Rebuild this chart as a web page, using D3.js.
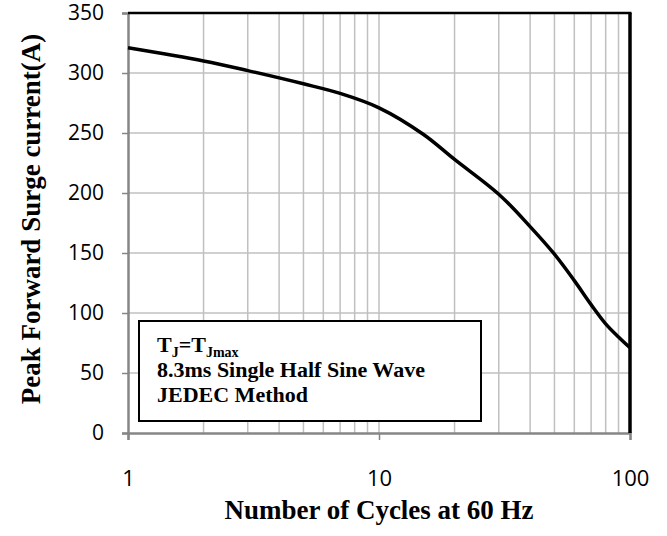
<!DOCTYPE html>
<html><head><meta charset="utf-8">
<script src="https://cdn.jsdelivr.net/npm/d3@7"></script>
<style>body{margin:0;background:#fff}</style>
</head><body>
<svg id="c" width="667" height="536"></svg>
<script>
const cycles = [1, 2, 3, 5, 7, 10, 15, 20, 30, 40, 50, 60, 70, 80, 90, 100];
const surge  = [321, 310, 302, 291, 283, 271, 249, 228, 199, 172, 149, 127, 107, 91, 80, 71];
const yTicks = [0, 50, 100, 150, 200, 250, 300, 350];
const xTicks = [1, 10, 100];
const xTitle = "Number of Cycles at 60 Hz";
const yTitle = "Peak Forward Surge current(A)";
const noteLine2 = "8.3ms Single Half Sine Wave";
const noteLine3 = "JEDEC Method";

const svg = d3.select("#c");
const L = 128, R = 630, T = 13, B = 433;
const x = d3.scaleLog().domain([1, 100]).range([L, R]);
const y = d3.scaleLinear().domain([0, 350]).range([B, T]);

// grid
const minor = [];
for (let d = 1; d < 100; d *= 10) for (let k = 1; k <= 10; k++) minor.push(d * k);
svg.append("g").selectAll("line").data(Array.from(new Set(minor)).filter(v => v > 1 && v < 100)).join("line")
  .attr("x1", d => x(d)).attr("x2", d => x(d)).attr("y1", T).attr("y2", B)
  .attr("stroke", "#c0c0c0").attr("stroke-width", 1.5);
svg.append("g").selectAll("line").data(yTicks.filter(v => v > 0 && v < 350)).join("line")
  .attr("x1", L).attr("x2", R).attr("y1", d => y(d)).attr("y2", d => y(d))
  .attr("stroke", "#c0c0c0").attr("stroke-width", 1.5);

// axes
const yAxis = svg.append("g").attr("transform", `translate(${L},0)`)
  .call(d3.axisLeft(y).tickValues(yTicks).tickSize(6).tickPadding(18));
yAxis.select(".domain").attr("stroke", "#868686").attr("stroke-width", 2.5);
yAxis.selectAll(".tick line").attr("stroke", "#868686").attr("stroke-width", 1.5);
yAxis.selectAll("text").attr("font-family", "'Open Sans', sans-serif").attr("font-size", 21).attr("fill", "#000");

const xAxis = svg.append("g").attr("transform", `translate(0,${B})`)
  .call(d3.axisBottom(x).tickValues(xTicks).tickFormat(d3.format("d")).tickSize(7).tickPadding(30));
xAxis.select(".domain").attr("stroke", "#868686").attr("stroke-width", 2.5);
xAxis.selectAll(".tick line").attr("stroke", "#868686").attr("stroke-width", 1.5);
xAxis.selectAll("text").attr("font-family", "'Open Sans', sans-serif").attr("font-size", 22).attr("fill", "#000");

// top & right borders
svg.append("line").attr("x1", L).attr("x2", R + 1.5).attr("y1", T).attr("y2", T).attr("stroke", "#000").attr("stroke-width", 2.5);
svg.append("line").attr("x1", R).attr("x2", R).attr("y1", T).attr("y2", B).attr("stroke", "#000").attr("stroke-width", 3.5);

// curve
const line = d3.line().x(d => x(d[0])).y(d => y(d[1])).curve(d3.curveCatmullRom.alpha(0.5));
svg.append("path").datum(cycles.map((c, i) => [c, surge[i]]))
  .attr("d", line).attr("fill", "none").attr("stroke", "#000").attr("stroke-width", 3.5);

// note box
const g = svg.append("g");
g.append("rect").attr("x", 139).attr("y", 321).attr("width", 342).attr("height", 100)
  .attr("fill", "#fff").attr("stroke", "#000").attr("stroke-width", 2);
const tf = "'Liberation Serif', 'Times New Roman', serif";
const t1 = g.append("text").attr("x", 157).attr("y", 352).attr("font-family", tf).attr("font-weight", "bold").attr("font-size", 22);
t1.append("tspan").text("T");
t1.append("tspan").attr("font-size", 14).attr("dy", 5).text("J");
t1.append("tspan").attr("dy", -5).text("=T");
t1.append("tspan").attr("font-size", 14).attr("dy", 5).text("Jmax");
g.append("text").attr("x", 157).attr("y", 377).attr("font-family", tf).attr("font-weight", "bold").attr("font-size", 22).text(noteLine2);
g.append("text").attr("x", 157).attr("y", 402).attr("font-family", tf).attr("font-weight", "bold").attr("font-size", 22).text(noteLine3);

// axis titles
svg.append("text").attr("x", (L + R) / 2).attr("y", 519).attr("text-anchor", "middle")
  .attr("font-family", tf).attr("font-weight", "bold").attr("font-size", 27).text(xTitle);
svg.append("text").attr("transform", "translate(40,219) rotate(-90)").attr("text-anchor", "middle")
  .attr("font-family", tf).attr("font-weight", "bold").attr("font-size", 27).text(yTitle);
</script>
</body></html>
